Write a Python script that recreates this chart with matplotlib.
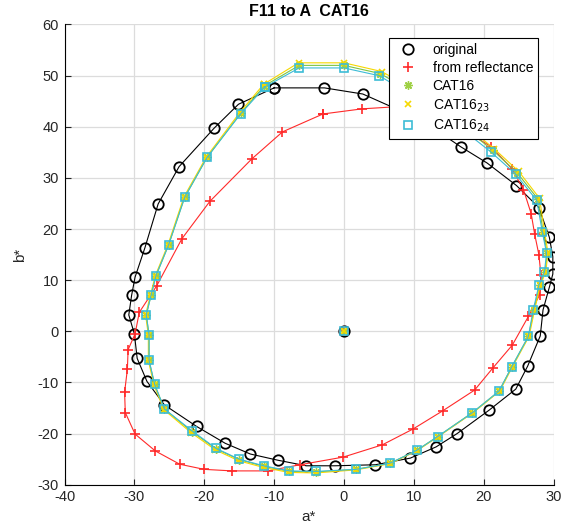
import numpy as np
import matplotlib
matplotlib.use('Agg')
import matplotlib.pyplot as plt

plt.rcParams['font.family'] = ['Liberation Sans', 'DejaVu Sans']
plt.rcParams['axes.unicode_minus'] = False

# ring data (a*, b*)
orig_a = [-10.0, -15.1, -18.6, -23.6, -26.6, -28.5, -29.9, -30.4, -30.8, -30.0, -29.6, -28.2, -25.7, -21.1,
          -17.0, -13.4, -9.5, -5.4, -1.3, 4.5, 9.5, 13.2, 16.2, 20.8, 24.6, 26.3, 28.1, 28.5, 29.4, 29.9,
          29.9, 29.4, 27.9, 24.7, 20.5, 16.7, 12.5, 7.8, 2.7, -2.8]
orig_b = [47.6, 44.4, 39.7, 32.2, 24.9, 16.3, 10.6, 7.0, 3.2, -0.5, -5.3, -9.8, -14.4, -18.6,
          -21.9, -24.0, -25.2, -26.3, -26.3, -26.1, -24.8, -22.6, -20.0, -15.4, -11.3, -6.8, -0.9, 4.2, 8.6, 11.2,
          14.6, 18.4, 24.2, 28.5, 32.9, 36.1, 40.0, 43.3, 46.4, 47.6]

refl_a = [-3.0, -8.8, -13.2, -19.2, -23.2, -26.8, -29.3, -29.9, -30.9, -31.0, -31.4, -31.3, -29.9, -27.0,
          -23.5, -20.0, -16.0, -10.9, -6.3, -0.1, 5.5, 9.9, 14.2, 18.7, 21.3, 24.1, 26.4, 28.0, 28.2, 27.9,
          27.3, 26.8, 25.7, 24.1, 21.1, 14.5, 8.5, 2.6]
refl_b = [42.5, 39.0, 33.7, 25.4, 18.1, 8.9, 3.7, -0.5, -3.6, -7.4, -11.9, -15.9, -20.1, -23.4,
          -26.0, -27.0, -27.3, -27.3, -26.1, -24.6, -22.2, -19.1, -15.5, -11.5, -7.2, -2.7, 2.9, 7.1, 11.0, 15.0,
          19.0, 23.0, 27.7, 31.7, 36.1, 41.5, 44.0, 43.5]

cat16_a = [-11.4, -14.8, -19.6, -22.8, -25.1, -26.9, -27.6, -28.3, -27.9, -27.9, -27.1, -25.7, -21.8, -18.3,
           -15.0, -11.5, -7.8, -4.0, 1.7, 6.6, 10.4, 13.4, 18.4, 22.2, 24.0, 26.4, 27.2, 28.0, 28.8, 29.1,
           28.5, 27.8, 24.8, 21.3, 16.2, 10.8, 5.2, 0.0, -6.4]
cat16_b = [48.0, 42.6, 34.0, 26.2, 16.9, 10.9, 7.1, 3.2, -0.7, -5.7, -10.4, -15.2, -19.6, -23.0,
           -25.1, -26.4, -27.4, -27.5, -27.0, -25.8, -23.3, -20.6, -15.9, -11.7, -7.0, -1.0, 4.2, 9.0, 11.6, 15.3,
           19.5, 25.8, 31.0, 35.4, 41.0, 46.0, 50.4, 52.0, 52.0]

cat16_23_a = [-11.5, -14.9, -19.7, -22.9, -25.2, -27.0, -27.7, -28.4, -28.0, -28.0, -27.2, -25.8, -21.9, -18.4,
              -15.1, -11.6, -7.9, -4.0, 1.7, 6.6, 10.4, 13.5, 18.5, 22.3, 24.1, 26.5, 27.3, 28.1, 28.9, 29.2,
              28.7, 28.0, 25.0, 21.5, 16.4, 11.0, 5.4, 0.0, -6.5]
cat16_23_b = [48.3, 42.8, 34.1, 26.3, 16.9, 10.9, 7.1, 3.2, -0.7, -5.7, -10.5, -15.3, -19.8, -23.2,
              -25.3, -26.6, -27.6, -27.7, -27.1, -25.9, -23.4, -20.6, -15.9, -11.7, -7.0, -1.0, 4.2, 9.0, 11.6, 15.4,
              19.6, 26.0, 31.3, 35.7, 41.4, 46.5, 50.8, 52.5, 52.5]

cat16_24_a = [-11.3, -14.8, -19.6, -22.8, -25.1, -26.9, -27.6, -28.3, -27.9, -27.9, -27.1, -25.7, -21.7, -18.3,
              -15.0, -11.5, -7.8, -4.0, 1.7, 6.6, 10.4, 13.4, 18.4, 22.2, 24.0, 26.4, 27.1, 27.9, 28.7, 29.0,
              28.4, 27.6, 24.6, 21.1, 16.0, 10.6, 5.0, 0.0, -6.4]
cat16_24_b = [47.8, 42.5, 34.0, 26.2, 16.9, 10.9, 7.1, 3.2, -0.7, -5.7, -10.4, -15.2, -19.5, -22.9,
              -25.0, -26.3, -27.3, -27.4, -27.0, -25.8, -23.3, -20.6, -15.9, -11.7, -7.0, -1.0, 4.2, 9.0, 11.6, 15.3,
              19.4, 25.6, 30.7, 35.0, 40.5, 45.5, 50.0, 51.5, 51.5]

# white point
white_a = [0.0]
white_b = [0.0]

labels = ['original', 'from reflectance', 'CAT16', 'CAT16$_{23}$', 'CAT16$_{24}$']


def closed(v):
    return np.append(v, v[0])


fig = plt.figure(figsize=(5.72, 5.32), dpi=100)
ax = fig.add_axes([0.1128, 0.0889, 0.8549, 0.8651])

h1, = ax.plot(closed(orig_a), closed(orig_b), color='black', lw=0.8, marker='o', ms=7.5,
              mfc='none', mec='black', mew=1.3, label=labels[0])
h2, = ax.plot(closed(refl_a), closed(refl_b), color='#ff2a2a', lw=0.8, marker='+', ms=7,
              mew=1.2, label=labels[1])
h3, = ax.plot(closed(cat16_a), closed(cat16_b), color='#7cc443', lw=0.8, marker=(8, 2, 0), ms=6,
              mec='#9fd045', mew=1.0, label=labels[2])
h4, = ax.plot(closed(cat16_23_a), closed(cat16_23_b), color='#f5d800', lw=0.8, marker='x', ms=5,
              mew=1.2, label=labels[3])
h5, = ax.plot(closed(cat16_24_a), closed(cat16_24_b), color='#3cbcd6', lw=0.8, marker='s', ms=6,
              mfc='none', mec='#3cbcd6', mew=1.2, label=labels[4])

# white points
ax.plot(white_a, white_b, ls='none', marker='o', ms=7.5, mfc='none', mec='black', mew=1.3)
ax.plot(white_a, white_b, ls='none', marker='+', ms=7, mec='#ff2a2a', mew=1.2)
ax.plot(white_a, white_b, ls='none', marker=(8, 2, 0), ms=6, mec='#9fd045', mew=1.0)
ax.plot(white_a, white_b, ls='none', marker='x', ms=5, mec='#f5d800', mew=1.2)
ax.plot(white_a, white_b, ls='none', marker='s', ms=6, mfc='none', mec='#3cbcd6', mew=1.2)

ax.set_xlim(-40, 30)
ax.set_ylim(-30, 60)
ax.set_xticks(np.arange(-40, 31, 10))
ax.set_yticks(np.arange(-30, 61, 10))
ax.grid(True, color='#dcdcdc', lw=0.9)
ax.set_axisbelow(True)
ax.spines['top'].set_visible(False)
ax.spines['right'].set_visible(False)
ax.tick_params(direction='in', length=4, labelsize=10.5, colors='#262626', pad=4)
ax.set_xlabel('a*', fontsize=11, color='#262626', labelpad=4)
ax.set_ylabel('b*', fontsize=11, color='#262626', labelpad=8)
ax.set_title('F11 to A  CAT16', fontsize=11.5, fontweight='bold', pad=6)

leg = ax.legend(handles=[h1, h2, h3, h4, h5], loc='upper right', bbox_to_anchor=(0.968, 0.971),
                borderaxespad=0, fontsize=10, frameon=True, fancybox=False, framealpha=1,
                edgecolor='black', handlelength=2.0, labelspacing=0.3, borderpad=0.35)
leg.get_frame().set_linewidth(0.8)
for line in leg.get_lines():
    line.set_linestyle('none')

fig.savefig('out.png', dpi=100)
